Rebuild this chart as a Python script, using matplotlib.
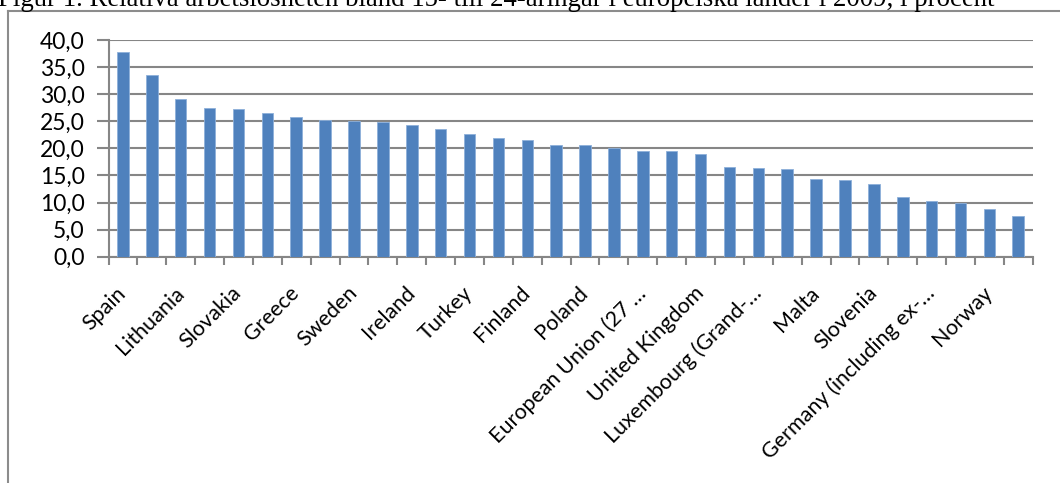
import matplotlib.pyplot as plt
import numpy as np
from matplotlib.lines import Line2D

# Youth unemployment 2009, percent.
# Names of the labelled categories are kept as Excel truncated them.
countries = [
    "Spain", "Latvia", "Lithuania", "Estonia", "Slovakia", "Hungary", "Greece", "Italy",
    "Sweden", "France", "Ireland", "Belgium", "Turkey", "Croatia", "Finland", "Portugal",
    "Poland", "Romania", "European Union (27 …", "Bulgaria", "United Kingdom", "Cyprus",
    "Luxembourg (Grand-…", "Czech Republic", "Malta", "Iceland", "Slovenia", "Denmark",
    "Germany (including ex-…", "Austria", "Norway", "Netherlands",
]
values = [
    37.7, 33.5, 29.1, 27.4, 27.2, 26.5, 25.8, 25.2,
    25.0, 24.9, 24.4, 23.5, 22.7, 21.9, 21.5, 20.7,
    20.6, 20.0, 19.6, 19.5, 19.0, 16.6, 16.4, 16.1,
    14.3, 14.1, 13.5, 11.1, 10.3, 9.9, 8.8, 7.6,
]
yticks = [0, 5, 10, 15, 20, 25, 30, 35, 40]
title = "Figur 1. Relativa arbetslösheten bland 15- till 24-åringar i europeiska länder i 2009, i procent"

GRAY = "#868686"
BAR = "#4F81BD"

fig = plt.figure(figsize=(10.6, 4.83), dpi=100)
plt.rcParams["font.family"] = ["Lato", "DejaVu Sans"]

ax = fig.add_axes([108.5 / 1060, 1 - 256.7 / 483, (1032.7 - 108.5) / 1060, (256.7 - 40) / 483])
x = np.arange(len(values))
ax.bar(x, values, width=0.4, color=BAR, edgecolor="#8DB0DA", linewidth=0.6, zorder=3)

ax.set_xlim(-0.5, len(values) - 0.5)
ax.set_ylim(0, 40)
ax.set_yticks(yticks)
ax.set_yticklabels([f"{v:.1f}".replace(".", ",") for v in yticks], fontsize=16.5)
ax.yaxis.grid(True, color=GRAY, linewidth=1.5, zorder=0)
ax.set_axisbelow(True)

# tick marks on category boundaries, labels on every other category centre
ax.set_xticks(np.arange(len(values) + 1) - 0.5)
ax.set_xticklabels([])
ax.set_xticks(x[::2], minor=True)
ax.set_xticklabels(countries[::2], minor=True, rotation=45,
                   ha="right", va="center", rotation_mode="anchor", fontsize=15.5)
ax.tick_params(axis="x", which="major", length=6, width=1.5, color=GRAY)
ax.tick_params(axis="x", which="minor", length=0, pad=24)
ax.tick_params(axis="y", length=9, width=1.5, color=GRAY, pad=8)

for side in ("top", "right"):
    ax.spines[side].set_visible(False)
for side in ("left", "bottom"):
    ax.spines[side].set_color(GRAY)
    ax.spines[side].set_linewidth(1.5)

# chart frame (partly outside the image, as in the document)
fig.add_artist(Line2D([7.5 / 1060, 7.5 / 1060], [0, 1 - 11 / 483], color="#8C8C8C", linewidth=1.5))
fig.add_artist(Line2D([7.5 / 1060, 1], [1 - 11 / 483, 1 - 11 / 483], color="#8C8C8C", linewidth=1.5))

fig.text(-0.002, 1 - 5.5 / 483, title, family=["Liberation Serif"], fontsize=19.3,
         va="baseline", ha="left")

fig.savefig("out.png", dpi=100)
